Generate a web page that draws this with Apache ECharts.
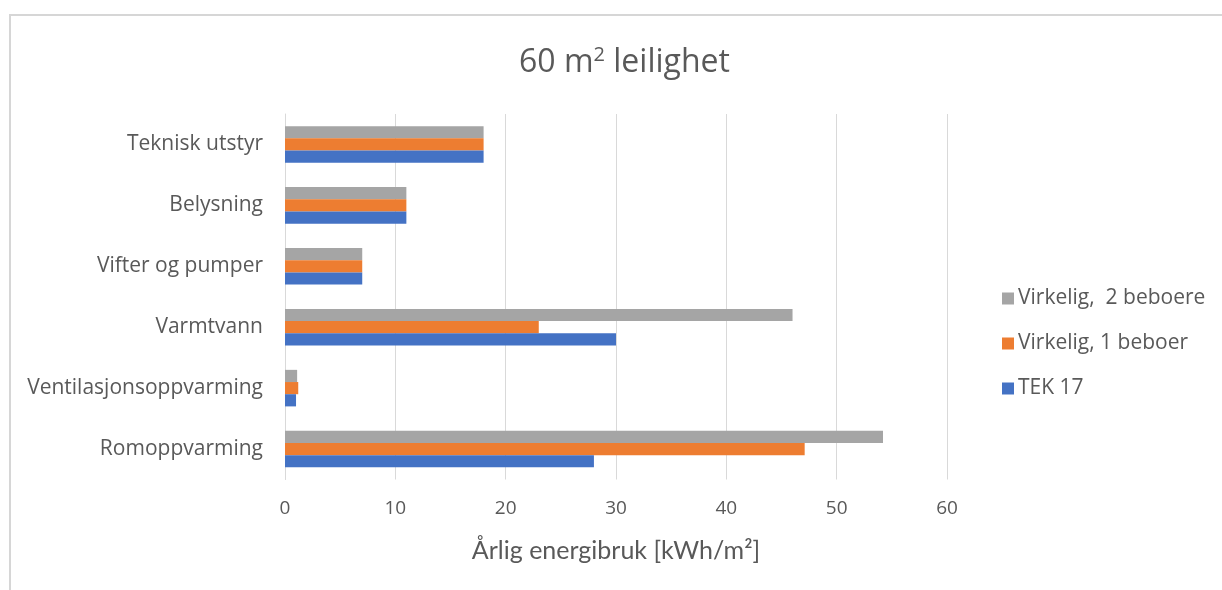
<!DOCTYPE html>
<html>
<head>
<meta charset="utf-8">
<script src="https://cdn.jsdelivr.net/npm/echarts@6/dist/echarts.min.js"></script>
<style>
  html, body { margin: 0; padding: 0; background: #ffffff; }
  #chart { width: 1222px; height: 590px; }
</style>
</head>
<body>
<div id="chart"></div>
<script>
// Energy use per post, bottom-to-top order on the category axis
const categories = [
  'Romoppvarming',
  'Ventilasjonsoppvarming',
  'Varmtvann',
  'Vifter og pumper',
  'Belysning',
  'Teknisk utstyr'
];
const tek17 = [28, 1.0, 30, 7, 11, 18];
const virkelig1 = [47.1, 1.2, 23, 7, 11, 18];
const virkelig2 = [54.2, 1.1, 46, 7, 11, 18];
const seriesNames = ['TEK 17', 'Virkelig, 1 beboer', 'Virkelig,  2 beboere'];
const xTicks = [0, 10, 20, 30, 40, 50, 60];

const textColor = '#595959';
const gridColor = '#d9d9d9';
const font = '"Open Sans", "DejaVu Sans", sans-serif';

const chart = echarts.init(document.getElementById('chart'), null, { renderer: 'canvas' });

const barCommon = { type: 'bar', barGap: '0%', barCategoryGap: '40%' };

chart.setOption({
  backgroundColor: '#ffffff',
  animation: false,
  graphic: [{
    type: 'rect',
    silent: true,
    shape: { x: 10, y: 15, width: 2000, height: 2000 },
    style: { fill: 'none', stroke: '#d6d6d6', lineWidth: 2 }
  }],
  title: {
    text: '60 m{sup|2} leilighet',
    left: 514,
    top: 40,
    textStyle: {
      fontFamily: font,
      fontSize: 32,
      fontWeight: 'normal',
      color: textColor,
      rich: {
        sup: { fontFamily: font, fontSize: 20, color: textColor, verticalAlign: 'top', padding: [0, 0, 15, 0] }
      }
    }
  },
  legend: {
    orient: 'vertical',
    left: 997,
    top: 283,
    itemWidth: 12,
    itemHeight: 12,
    itemGap: 24,
    icon: 'rect',
    data: [seriesNames[2], seriesNames[1], seriesNames[0]],
    textStyle: { fontFamily: font, fontSize: 21, color: textColor, padding: [0, 0, 0, -1] }
  },
  grid: {
    left: 285,
    right: 275,
    top: 114,
    bottom: 110.5,
    containLabel: false
  },
  xAxis: {
    type: 'value',
    min: xTicks[0],
    max: xTicks[xTicks.length - 1],
    interval: xTicks[1] - xTicks[0],
    name: 'Årlig energibruk [kWh/m²]',
    nameLocation: 'middle',
    nameGap: 59,
    nameTextStyle: { fontFamily: 'Lato, "Open Sans", sans-serif', fontSize: 25, color: textColor },
    axisLine: { show: false },
    axisTick: { show: false },
    axisLabel: { fontFamily: font, fontSize: 19, color: textColor, margin: 20 },
    splitLine: { show: true, lineStyle: { color: gridColor, width: 1 } }
  },
  yAxis: {
    type: 'category',
    data: categories,
    axisLine: { show: true, lineStyle: { color: gridColor, width: 1 } },
    axisTick: { show: false },
    axisLabel: { fontFamily: font, fontSize: 21, color: textColor, margin: 22 },
    splitLine: { show: false }
  },
  // Series listed top-to-bottom within each category group
  series: [
    Object.assign({ name: seriesNames[2], data: virkelig2, itemStyle: { color: '#a5a5a5' } }, barCommon),
    Object.assign({ name: seriesNames[1], data: virkelig1, itemStyle: { color: '#ed7d31' } }, barCommon),
    Object.assign({ name: seriesNames[0], data: tek17, itemStyle: { color: '#4472c4' } }, barCommon)
  ]
});
</script>
</body>
</html>
